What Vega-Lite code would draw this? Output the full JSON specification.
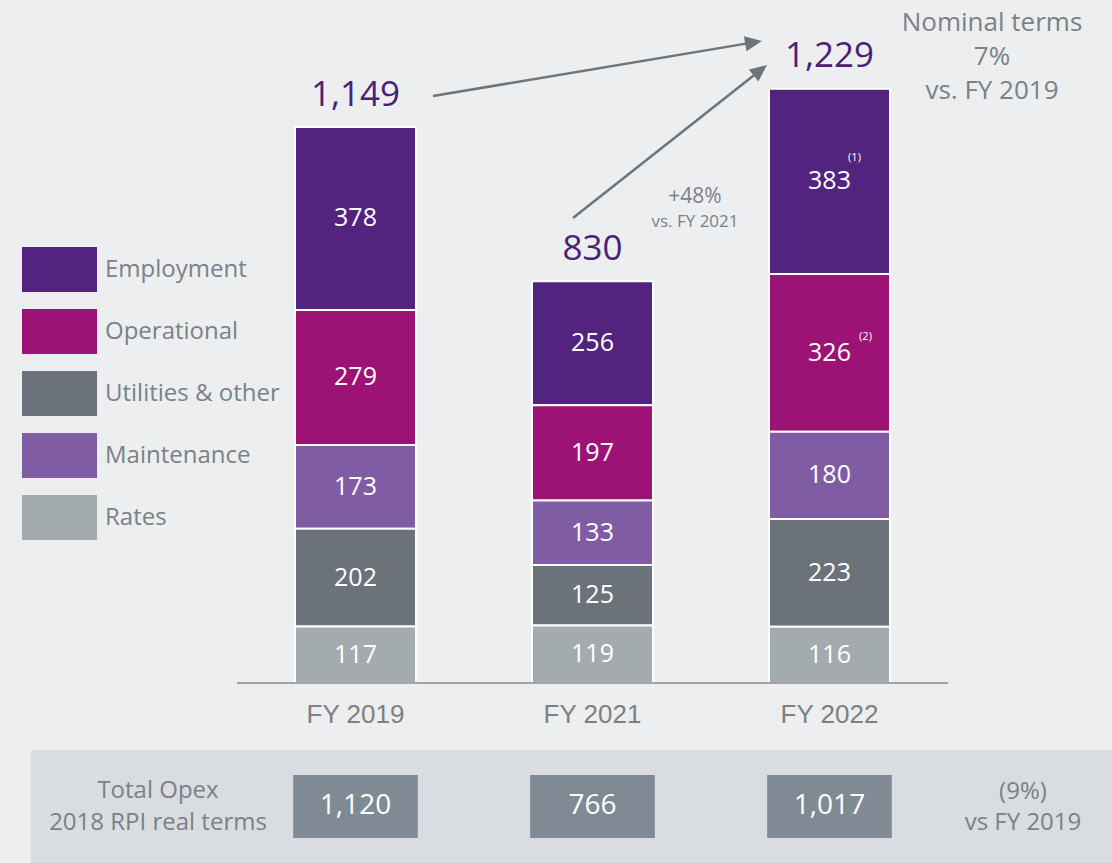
{
  "$schema": "https://vega.github.io/schema/vega-lite/v6.json",
  "width": 1112,
  "height": 683,
  "autosize": {"type": "none"},
  "padding": {"left": 0, "top": 0, "right": 0, "bottom": 180},
  "background": "#eceef0",
  "config": {
    "view": {"stroke": null},
    "text": {"font": "Open Sans"},
    "axisX": {"domain": false, "ticks": false, "grid": false, "labelAngle": 0, "labelFont": "Liberation Sans", "labelFontSize": 26, "labelColor": "#808080", "labelPadding": 18}
  },
  "datasets": {
    "opex": [
      {"year": "FY 2019", "category": "Employment", "value": 378, "note": ""},
      {"year": "FY 2019", "category": "Operational", "value": 279, "note": ""},
      {"year": "FY 2019", "category": "Maintenance", "value": 173, "note": ""},
      {"year": "FY 2019", "category": "Utilities & other", "value": 202, "note": ""},
      {"year": "FY 2019", "category": "Rates", "value": 117, "note": ""},
      {"year": "FY 2021", "category": "Employment", "value": 256, "note": ""},
      {"year": "FY 2021", "category": "Operational", "value": 197, "note": ""},
      {"year": "FY 2021", "category": "Maintenance", "value": 133, "note": ""},
      {"year": "FY 2021", "category": "Utilities & other", "value": 125, "note": ""},
      {"year": "FY 2021", "category": "Rates", "value": 119, "note": ""},
      {"year": "FY 2022", "category": "Employment", "value": 383, "note": "(1)"},
      {"year": "FY 2022", "category": "Operational", "value": 326, "note": "(2)"},
      {"year": "FY 2022", "category": "Maintenance", "value": 180, "note": ""},
      {"year": "FY 2022", "category": "Utilities & other", "value": 223, "note": ""},
      {"year": "FY 2022", "category": "Rates", "value": 116, "note": ""}
    ],
    "totals": [
      {"year": "FY 2019", "total": 1149},
      {"year": "FY 2021", "total": 830},
      {"year": "FY 2022", "total": 1229}
    ],
    "real": [
      {"year": "FY 2019", "real": 1120},
      {"year": "FY 2021", "real": 766},
      {"year": "FY 2022", "real": 1017}
    ],
    "one": [{}]
  },
  "layer": [
    {
      "data": {"name": "one"},
      "mark": {"type": "rect", "fill": "#d9dce0"},
      "encoding": {
        "x": {"datum": "FY 2019", "bandPosition": -2.182, "title": null},
        "x2": {"datum": "FY 2022", "bandPosition": 2.9},
        "y": {"datum": -138.5, "type": "quantitative", "axis": null},
        "y2": {"datum": -372}
      }
    },
    {
      "data": {"name": "opex"},
      "transform": [
        {"calculate": "indexof(['Rates','Utilities & other','Maintenance','Operational','Employment'], datum.category)", "as": "stackRank"},
        {"stack": "value", "groupby": ["year"], "sort": [{"field": "stackRank", "order": "ascending"}], "as": ["v0", "v1"]},
        {"calculate": "(datum.v0 + datum.v1) / 2", "as": "mid"}
      ],
      "layer": [
        {
          "mark": {"type": "bar", "stroke": "white", "strokeWidth": 2},
          "encoding": {
            "x": {
              "field": "year", "type": "nominal", "title": null,
              "scale": {"domain": ["FY 2019", "FY 2021", "FY 2022"], "range": [237, 948], "paddingInner": 0.48945, "paddingOuter": 0.24473, "align": 0.5},
              "axis": {"orient": "bottom"}
            },
            "y": {
              "field": "v0", "type": "quantitative",
              "scale": {"domain": [0, 1411.4], "nice": false, "zero": false},
              "axis": null
            },
            "y2": {"field": "v1"},
            "color": {
              "field": "category", "type": "nominal",
              "scale": {
                "domain": ["Employment", "Operational", "Utilities & other", "Maintenance", "Rates"],
                "range": ["#52237f", "#9c1375", "#6c7279", "#7f5ca3", "#a4abae"]
              },
              "legend": {
                "orient": "none", "legendX": 22, "legendY": 232, "title": null,
                "symbolType": "M-1,-0.6L1,-0.6L1,0.6L-1,0.6Z", "symbolSize": 5625,
                "symbolStrokeWidth": 0, "symbolOpacity": 1,
                "labelFont": "Open Sans", "labelFontSize": 24, "labelColor": "#7b8187",
                "labelOffset": 8, "rowPadding": 2, "labelLimit": 400
              }
            }
          }
        },
        {
          "mark": {"type": "text", "color": "white", "fontSize": 25, "baseline": "middle"},
          "encoding": {
            "x": {"field": "year", "type": "nominal", "title": null},
            "y": {"field": "mid", "type": "quantitative", "axis": null},
            "text": {"field": "value", "type": "quantitative"}
          }
        },
        {
          "transform": [{"filter": "datum.note == '(1)'"}],
          "mark": {"type": "text", "color": "white", "fontSize": 11, "baseline": "middle", "dx": 25, "dy": -23},
          "encoding": {
            "x": {"field": "year", "type": "nominal", "title": null},
            "y": {"field": "mid", "type": "quantitative", "axis": null},
            "text": {"field": "note"}
          }
        },
        {
          "transform": [{"filter": "datum.note == '(2)'"}],
          "mark": {"type": "text", "color": "white", "fontSize": 11, "baseline": "middle", "dx": 36, "dy": -16},
          "encoding": {
            "x": {"field": "year", "type": "nominal", "title": null},
            "y": {"field": "mid", "type": "quantitative", "axis": null},
            "text": {"field": "note"}
          }
        }
      ]
    },
    {
      "data": {"name": "one"},
      "mark": {"type": "rule", "color": "#a3a3a3", "strokeWidth": 2},
      "encoding": {
        "x": {"datum": "FY 2019", "bandPosition": -0.4793, "title": null},
        "x2": {"datum": "FY 2022", "bandPosition": 1.479},
        "y": {"datum": 0, "type": "quantitative", "axis": null}
      }
    },
    {
      "data": {"name": "totals"},
      "mark": {"type": "text", "color": "#4b2177", "fontSize": 35, "baseline": "alphabetic", "dy": -21},
      "encoding": {
        "x": {"field": "year", "type": "nominal", "title": null},
        "y": {"field": "total", "type": "quantitative", "axis": null},
        "text": {"field": "total", "type": "quantitative", "format": ","}
      }
    },
    {
      "data": {"name": "one"},
      "mark": {"type": "rule", "color": "#6d747a", "strokeWidth": 2.5},
      "encoding": {
        "x": {"datum": "FY 2019", "bandPosition": 1.1405, "title": null},
        "y": {"datum": 1213.0, "type": "quantitative", "axis": null},
        "x2": {"datum": "FY 2022", "bandPosition": -0.1273},
        "y2": {"datum": 1323.8}
      }
    },
    {
      "data": {"name": "one"},
      "mark": {"type": "rule", "color": "#6d747a", "strokeWidth": 2.5},
      "encoding": {
        "x": {"datum": "FY 2021", "bandPosition": 0.3388, "title": null},
        "y": {"datum": 960.9, "type": "quantitative", "axis": null},
        "x2": {"datum": "FY 2022", "bandPosition": -0.0719},
        "y2": {"datum": 1266.2}
      }
    },
    {
      "data": {"name": "one"},
      "mark": {"type": "point", "shape": "M1,0L-1,-0.9L-1,0.9Z", "size": 289, "filled": true, "color": "#6d747a", "opacity": 1, "angle": -9.49},
      "encoding": {
        "x": {"datum": "FY 2022", "bandPosition": -0.1273, "title": null},
        "y": {"datum": 1323.8, "type": "quantitative", "axis": null}
      }
    },
    {
      "data": {"name": "one"},
      "mark": {"type": "point", "shape": "M1,0L-1,-0.9L-1,0.9Z", "size": 289, "filled": true, "color": "#6d747a", "opacity": 1, "angle": -38.26},
      "encoding": {
        "x": {"datum": "FY 2022", "bandPosition": -0.0719, "title": null},
        "y": {"datum": 1266.2, "type": "quantitative", "axis": null}
      }
    },
    {
      "data": {"name": "one"},
      "mark": {"type": "text", "color": "#7b8187", "fontSize": 21, "baseline": "alphabetic", "align": "center", "text": "+48%"},
      "encoding": {
        "x": {"datum": "FY 2021", "bandPosition": 1.347, "title": null},
        "y": {"datum": 991.9, "type": "quantitative", "axis": null}
      }
    },
    {
      "data": {"name": "one"},
      "mark": {"type": "text", "color": "#7b8187", "fontSize": 17, "baseline": "alphabetic", "align": "center", "text": "vs. FY 2021"},
      "encoding": {
        "x": {"datum": "FY 2021", "bandPosition": 1.347, "title": null},
        "y": {"datum": 942.3, "type": "quantitative", "axis": null}
      }
    },
    {
      "data": {"name": "one"},
      "mark": {"type": "text", "color": "#7b8187", "fontSize": 26, "baseline": "alphabetic", "align": "center", "lineHeight": 34, "text": ["Nominal terms", "7%", "vs. FY 2019"]},
      "encoding": {
        "x": {"datum": "FY 2022", "bandPosition": 1.843, "title": null},
        "y": {"datum": 1347.4, "type": "quantitative", "axis": null}
      }
    },
    {
      "data": {"name": "one"},
      "mark": {"type": "text", "color": "#7b8187", "fontSize": 24, "baseline": "alphabetic", "align": "center", "lineHeight": 32, "text": ["Total Opex", "2018 RPI real terms"]},
      "encoding": {
        "x": {"datum": "FY 2019", "bandPosition": -1.1322, "title": null},
        "y": {"datum": -237.6, "type": "quantitative", "axis": null}
      }
    },
    {
      "data": {"name": "one"},
      "mark": {"type": "text", "color": "#7b8187", "fontSize": 24, "baseline": "alphabetic", "align": "center", "lineHeight": 31, "text": ["(9%)", "vs FY 2019"]},
      "encoding": {
        "x": {"datum": "FY 2022", "bandPosition": 2.099, "title": null},
        "y": {"datum": -239.7, "type": "quantitative", "axis": null}
      }
    },
    {
      "data": {"name": "real"},
      "mark": {"type": "bar", "fill": "#808a94", "width": {"band": 1.03}},
      "encoding": {
        "x": {"field": "year", "type": "nominal", "title": null},
        "y": {"datum": -190.1, "type": "quantitative", "axis": null},
        "y2": {"datum": -320.3}
      }
    },
    {
      "data": {"name": "real"},
      "mark": {"type": "text", "color": "white", "font": "Open Sans", "fontSize": 28, "baseline": "middle"},
      "encoding": {
        "x": {"field": "year", "type": "nominal", "title": null},
        "y": {"datum": -255.2, "type": "quantitative", "axis": null},
        "text": {"field": "real", "type": "quantitative", "format": ","}
      }
    }
  ]
}
